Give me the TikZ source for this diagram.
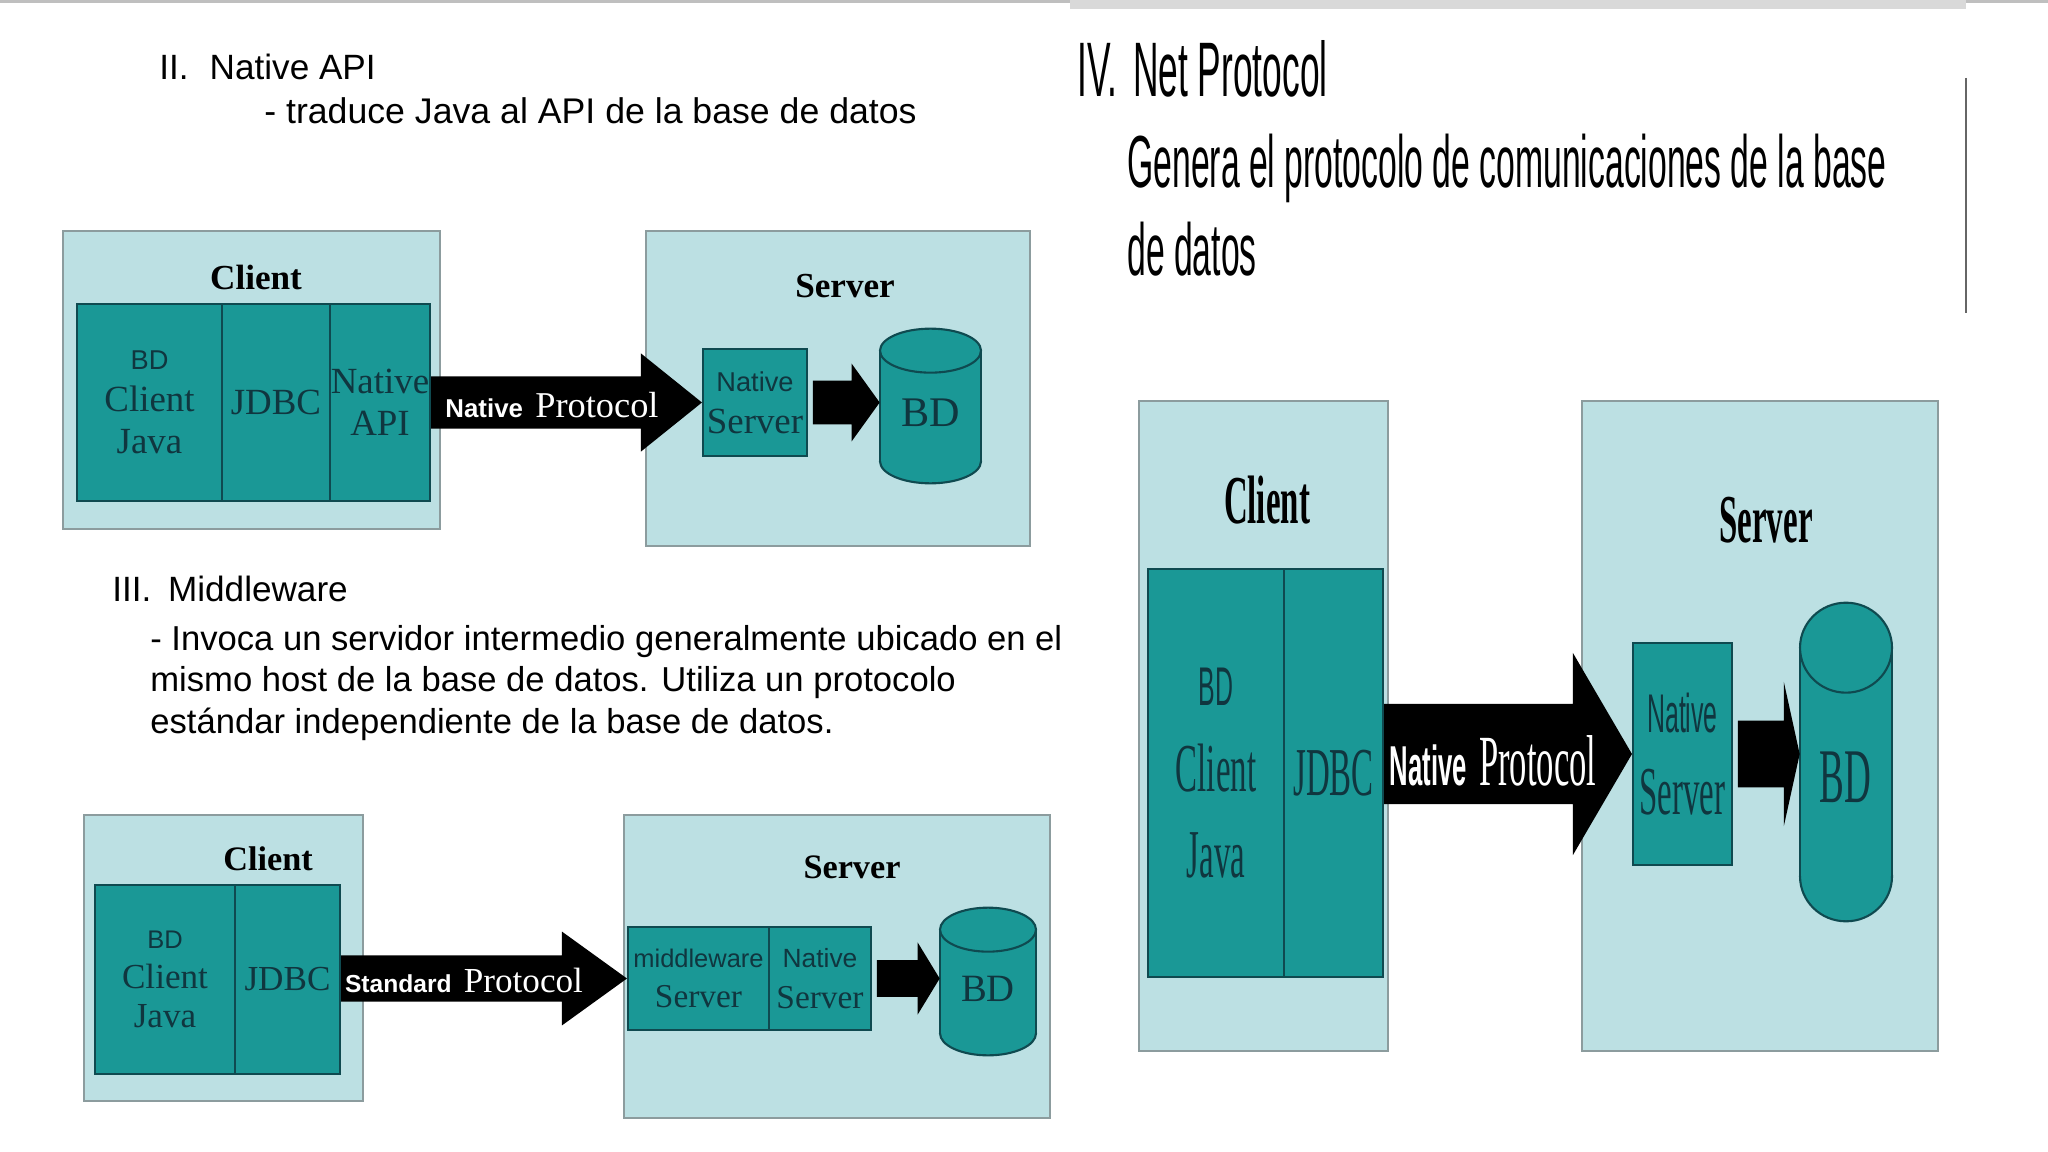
\documentclass[tikz,border=0pt]{standalone}
\usepackage{fontspec}
\setmainfont{Liberation Sans}
\newfontfamily\arial{Liberation Sans}
\newfontfamily\tms{Liberation Serif}
\newfontfamily\nsans[FakeStretch=0.457]{Liberation Sans}
\newfontfamily\ntms[FakeStretch=0.48]{Liberation Serif}
\usetikzlibrary{
		calc,
		fit,
		positioning
	}
\definecolor{boxcyan}{HTML}{BCE0E3}
\definecolor{blockteal}{HTML}{1A9896}
\definecolor{edgeteal}{HTML}{0F4A50}
\definecolor{boxgray}{HTML}{8C9C9E}
\definecolor{inkteal}{HTML}{10363F}
\tikzset{
		>=stealth,
		outerbox/.style={draw=boxgray, fill=boxcyan, line width=1.5pt, inner sep=0pt},
		tealbox/.style={draw=edgeteal, fill=blockteal, line width=1.2pt, inner sep=0pt,
			text=inkteal, align=center},
		dbbody/.style={inner sep=0pt},
		hd/.style={text=black, inner sep=0pt},
		slide/.style={anchor=west, inner sep=0pt},
		bigarrow/.style args={#1/#2/#3}{to path={let \p1=(\tikztostart), \p2=(\tikztotarget) in
			(\x1,\y2+#1) -- (\x2-#3,\y2+#1) -- (\x2-#3,\y2+#2) -- (\x2,\y2)
			-- (\x2-#3,\y2-#2) -- (\x2-#3,\y2-#1) -- (\x1,\y2-#1) -- cycle}},
		pipearrow/.style args={#1/#2/#3}{to path={let \p1=(\tikztostart), \p2=(\tikztotarget) in
			(\x1,\y1+#1) -- (\x2-#3,\y1+#1) -- (\x2-#3,\y1+#2) -- (\x2,\y1)
			-- (\x2-#3,\y1-#2) -- (\x2-#3,\y1-#1) -- (\x1,\y1-#1) -- cycle}}
	}
% cylinder round a body node: name, x radius, y radius
\newcommand{\dbdraw}[3]{%
	\filldraw[draw=edgeteal, fill=blockteal, line width=1.2pt] (#1.south) ellipse [x radius=#2, y radius=#3];
	\fill[blockteal] (#1.north west) rectangle (#1.south east);
	\draw[edgeteal, line width=1.2pt] (#1.north west) -- (#1.south west) (#1.north east) -- (#1.south east);
	\filldraw[draw=edgeteal, fill=blockteal, line width=1.2pt] (#1.north) ellipse [x radius=#2, y radius=#3];
}
\begin{document}
\begin{tikzpicture}[x=0.02cm, y=-0.02cm]
          \useasboundingbox[fill=white] (0,0) rectangle (2048,1152);
          \fill[black!25] (0,0) rectangle (2048,3);
          \fill[black!15] (1070,0) rectangle (1966,9);
          \draw[black!60, line width=1pt] (1966,78) -- (1966,313);

          % II. Native API
          \node[slide, font=\fontsize{20}{22}\selectfont] (t2) at (159,67) {II.\hspace{12pt}Native API};
          \node[slide, font=\fontsize{20.3}{22}\selectfont] (d2) at (264,111) {- traduce Java al API de la base de datos};

          \node[outerbox, fit={(63,231) (440,529)}] (c2) {};
          \node[hd, font=\tms\bfseries\fontsize{20}{22}\selectfont] (c2t) at (256,277) {Client};
          \node[tealbox, minimum width=2.9cm, minimum height=3.94cm, font=\tms\fontsize{21}{24}\selectfont] (bd2)
               at (149.5,402.5) {{\arial\fontsize{15.5}{24}\selectfont BD}\\Client\\Java};
          \node[tealbox, minimum width=2.16cm, minimum height=3.94cm, font=\tms\fontsize{21}{24}\selectfont] (jdbc2)
               at (276,402.5) {JDBC};
          \node[tealbox, minimum width=2cm, minimum height=3.94cm, font=\tms\fontsize{21}{24}\selectfont] (api2)
               at (380,402.5) {Native\\API};

          \node[outerbox, fit={(646,231) (1030,546)}] (s2) {};
          \node[hd, font=\tms\bfseries\fontsize{20}{22}\selectfont] (s2t) at (845,286) {Server};
          \node[tealbox, minimum width=2.08cm, minimum height=2.14cm, font=\tms\fontsize{21}{24}\selectfont] (ns2)
               at (755,402.5) {{\arial\fontsize{15.5}{24}\selectfont Native}\\Server};
          \node[dbbody, minimum width=2.02cm, minimum height=2.2cm] (db2) at (930.5,406) {};
          \dbdraw{db2}{1.01cm}{0.44cm}
          \node[text=inkteal, font=\tms\fontsize{24}{26}\selectfont] (db2t) at (930.5,413) {BD};

          \fill[bigarrow=14.8pt/27.9pt/34.7pt] (api2.east) to (ns2.west);
          \fill[pipearrow=12.5pt/22.2pt/16pt] ([xshift=2.8pt]ns2.east) to (db2.west);
          \node[text=white] (p2t) at (552,405)
               {{\arial\bfseries\fontsize{14.7}{16}\selectfont Native}\hspace{7pt}{\tms\fontsize{20.7}{22}\selectfont Protocol}};

          % III. Middleware
          \node[slide, font=\fontsize{20}{22}\selectfont] (t3) at (112,589) {III.\hspace{9.5pt}Middleware};
          \node[slide, align=left, font=\fontsize{19.7}{23.5}\selectfont] (d3) at (150,683)
               {- Invoca un servidor intermedio generalmente ubicado en el\\
                mismo host de la base de datos. Utiliza un protocolo\\
                estándar independiente de la base de datos.};

          \node[outerbox, fit={(84,815) (363,1101)}] (c3) {};
          \node[hd, font=\tms\bfseries\fontsize{19.5}{22}\selectfont] (c3t) at (268,859) {Client};
          \node[tealbox, minimum width=2.8cm, minimum height=3.78cm, font=\tms\fontsize{20}{22.5}\selectfont] (bd3)
               at (165,979.5) {{\arial\fontsize{14.5}{22.5}\selectfont BD}\\Client\\Java};
          \node[tealbox, minimum width=2.1cm, minimum height=3.78cm, font=\tms\fontsize{20}{22.5}\selectfont] (jdbc3)
               at (287.5,979.5) {JDBC};

          \node[outerbox, fit={(624,815) (1050,1118)}] (s3) {};
          \node[hd, font=\tms\bfseries\fontsize{19.5}{22}\selectfont] (s3t) at (852,867) {Server};
          \node[tealbox, minimum width=2.82cm, minimum height=2.06cm, font=\tms\fontsize{19}{23}\selectfont] (mw3)
               at (698.5,978.5) {{\arial\fontsize{14.5}{23}\selectfont middleware}\\Server};
          \node[tealbox, minimum width=2.04cm, minimum height=2.06cm, font=\tms\fontsize{19}{23}\selectfont] (ns3)
               at (820,978.5) {{\arial\fontsize{15}{23}\selectfont Native}\\Server};
          \node[dbbody, minimum width=1.92cm, minimum height=2.06cm] (db3) at (988,981.5) {};
          \dbdraw{db3}{0.96cm}{0.44cm}
          \node[text=inkteal, font=\tms\fontsize{22}{24}\selectfont] (db3t) at (988,989) {BD};

          \fill[bigarrow=13.1pt/26.7pt/37pt] (jdbc3.east) to (mw3.west);
          \fill[pipearrow=10.5pt/20.5pt/12.5pt] ([xshift=2.8pt]ns3.east) to (db3.west);
          \node[text=white] (p3t) at (464,980)
               {{\arial\bfseries\fontsize{14}{16}\selectfont Standard}\hspace{7pt}{\tms\fontsize{20}{22}\selectfont Protocol}};

          % IV. Net Protocol
          \node[slide, font=\nsans\fontsize{44}{48}\selectfont] (t4) at (1077,69) {IV.\hspace{9pt}Net Protocol};
          \node[slide, align=left, font=\nsans\fontsize{42}{50}\selectfont] (d4) at (1127,205)
               {Genera el protocolo de comunicaciones de la base\\de datos};

          \node[outerbox, fit={(1139,401) (1388,1051)}] (c4) {};
          \node[hd, font=\ntms\bfseries\fontsize{39}{42}\selectfont] (c4t) at (1267,500) {Client};
          \node[tealbox, minimum width=2.72cm, minimum height=8.16cm, font=\ntms\fontsize{39}{49}\selectfont] (bd4)
               at (1216,773) {{\nsans\fontsize{31}{49}\selectfont BD}\\Client\\Java};
          \node[tealbox, minimum width=1.98cm, minimum height=8.16cm, font=\ntms\fontsize{39}{49}\selectfont] (jdbc4)
               at (1333.5,773) {JDBC};

          \node[outerbox, fit={(1582,401) (1938,1051)}] (s4) {};
          \node[hd, font=\ntms\bfseries\fontsize{39}{42}\selectfont] (s4t) at (1766,520) {Server};
          \node[tealbox, minimum width=1.98cm, minimum height=4.44cm, font=\ntms\fontsize{39}{47}\selectfont] (ns4)
               at (1682.5,754) {{\nsans\fontsize{31}{47}\selectfont Native}\\Server};
          \node[dbbody, minimum width=1.84cm, minimum height=4.56cm] (db4) at (1846,762) {};
          \dbdraw{db4}{0.92cm}{0.9cm}
          \node[text=inkteal, font=\ntms\fontsize{44}{46}\selectfont] (db4t) at (1845,777) {BD};

          \fill[bigarrow=28.5pt/57.5pt/33.6pt] (jdbc4.east) to (ns4.west);
          \fill[pipearrow=19pt/41pt/9pt] ([xshift=2.8pt]ns4.east) to (db4.west);
          \node[text=white] (p4t) at (1493,761)
               {{\nsans\bfseries\fontsize{32}{34}\selectfont Native}\hspace{7pt}{\ntms\fontsize{41}{44}\selectfont Protocol}};

          \end{tikzpicture}
\end{document}
